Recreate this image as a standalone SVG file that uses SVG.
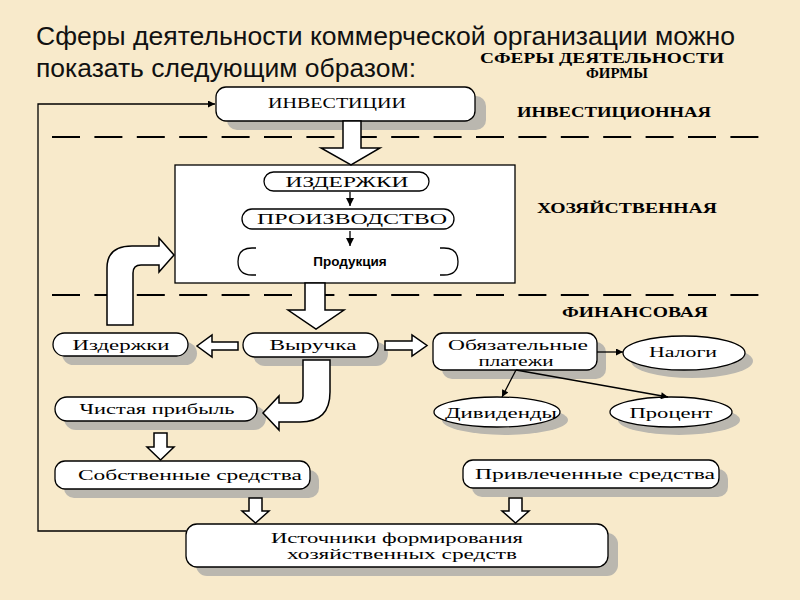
<svg xmlns="http://www.w3.org/2000/svg" width="800" height="600" viewBox="0 0 800 600">
<defs>
<style>
.t{font-family:"Liberation Serif","DejaVu Serif",serif;font-size:15px;fill:#000;text-anchor:middle}
.sec{font-family:"Liberation Serif","DejaVu Serif",serif;font-size:14px;font-weight:bold;fill:#000;text-anchor:middle}
.title{font-family:"Liberation Sans Narrow","Liberation Sans",Arial,sans-serif;font-size:26px;fill:#111}
.box{fill:#fff;stroke:#000;stroke-width:1.3}
.shd{fill:#bab7af}
.blk{fill:#fff;stroke:#000;stroke-width:1.5;stroke-linejoin:miter}
.ln{fill:none;stroke:#000;stroke-width:1.3}
.dash{fill:none;stroke:#000;stroke-width:2.2;stroke-dasharray:28 14.4}
</style>
<marker id="ah" viewBox="0 0 10 10" refX="10" refY="5" markerWidth="8" markerHeight="7" markerUnits="userSpaceOnUse" orient="auto">
<path d="M0,0 L10,5 L0,10 Z" fill="#000"/>
</marker>
<marker id="ahs" viewBox="0 0 10 10" refX="10" refY="5" markerWidth="10" markerHeight="8" markerUnits="userSpaceOnUse" orient="auto">
<path d="M0,0 L10,5 L0,10 Z" fill="#000"/>
</marker>
</defs>

<rect x="0" y="0" width="800" height="600" fill="#f8eacb"/>

<g id="title">
<text class="title" x="36" y="45" textLength="699" lengthAdjust="spacingAndGlyphs">Сферы деятельности коммерческой организации можно</text>
<text class="title" x="36" y="77" textLength="380" lengthAdjust="spacingAndGlyphs">показать следующим образом:</text>
</g>

<g id="section-labels">
<text class="sec" x="602" y="63" textLength="244" lengthAdjust="spacingAndGlyphs">СФЕРЫ ДЕЯТЕЛЬНОСТИ</text>
<text class="sec" x="617" y="78" textLength="62" lengthAdjust="spacingAndGlyphs">ФИРМЫ</text>
<text class="sec" x="614" y="117" textLength="194" lengthAdjust="spacingAndGlyphs">ИНВЕСТИЦИОННАЯ</text>
<text class="sec" x="627" y="213" textLength="180" lengthAdjust="spacingAndGlyphs">ХОЗЯЙСТВЕННАЯ</text>
<text class="sec" x="635" y="317" textLength="146" lengthAdjust="spacingAndGlyphs">ФИНАНСОВАЯ</text>
</g>

<g id="dividers">
<line class="dash" x1="52" y1="137" x2="760" y2="137"/>
<line class="dash" x1="52" y1="295" x2="760" y2="295"/>
</g>

<g id="investicii">
<rect class="shd" x="227" y="96" width="259" height="34" rx="10"/>
<rect class="box" x="216" y="87" width="259" height="34" rx="10"/>
<text class="t" x="337" y="108" textLength="138" lengthAdjust="spacingAndGlyphs">ИНВЕСТИЦИИ</text>
</g>

<g id="hoz-block">
<rect class="box" x="175" y="165" width="340" height="118"/>
</g>

<g id="izderzhki-top">
<rect class="box" x="264" y="172" width="165" height="19" rx="9.5"/>
<text class="t" x="347" y="187" textLength="123" lengthAdjust="spacingAndGlyphs">ИЗДЕРЖКИ</text>
</g>

<g id="proizvodstvo">
<rect class="box" x="242" y="209" width="212" height="20" rx="10"/>
<text class="t" x="352" y="224" textLength="190" lengthAdjust="spacingAndGlyphs">ПРОИЗВОДСТВО</text>
</g>

<g id="produkciya">
<path class="ln" d="M256,248 L252,248 Q238,248 238,261.5 Q238,275 252,275 L256,275"/>
<path class="ln" d="M440,248 L444,248 Q458,248 458,261.5 Q458,275 444,275 L440,275"/>
<text x="350" y="266" style="font-family:'Liberation Sans',Arial,sans-serif;font-size:13.5px;font-weight:bold;text-anchor:middle">Продукция</text>
</g>

<g id="izderzhki">
<rect class="shd" x="62" y="342" width="135" height="23" rx="11.5"/>
<rect class="box" x="53" y="333" width="135" height="23" rx="11.5"/>
<text class="t" x="121" y="350" textLength="97" lengthAdjust="spacingAndGlyphs">Издержки</text>
</g>

<g id="vyruchka">
<rect class="shd" x="253" y="342" width="135" height="24" rx="12"/>
<rect class="box" x="243" y="333" width="135" height="24" rx="12"/>
<text class="t" x="313" y="350" textLength="87" lengthAdjust="spacingAndGlyphs">Выручка</text>
</g>

<g id="obyazatelnye">
<rect class="shd" x="442" y="342" width="164" height="37" rx="10"/>
<rect class="box" x="433" y="333" width="164" height="37" rx="10"/>
<text class="t" x="518" y="350" textLength="140" lengthAdjust="spacingAndGlyphs">Обязательные</text>
<text class="t" x="516" y="366" textLength="75" lengthAdjust="spacingAndGlyphs">платежи</text>
</g>

<g id="nalogi">
<ellipse class="shd" cx="692" cy="361" rx="61" ry="17"/>
<ellipse class="box" cx="684" cy="353" rx="61" ry="17"/>
<text class="t" x="683" y="357" textLength="68" lengthAdjust="spacingAndGlyphs">Налоги</text>
</g>

<g id="dividendy">
<ellipse class="shd" cx="505" cy="420" rx="63" ry="15"/>
<ellipse class="box" cx="497" cy="412" rx="63" ry="15"/>
<text class="t" x="501" y="418" textLength="112" lengthAdjust="spacingAndGlyphs">Дивиденды</text>
</g>

<g id="procent">
<ellipse class="shd" cx="679" cy="420" rx="61" ry="15"/>
<ellipse class="box" cx="671" cy="412" rx="61" ry="15"/>
<text class="t" x="671" y="418" textLength="83" lengthAdjust="spacingAndGlyphs">Процент</text>
</g>

<g id="chistaya-pribyl">
<rect class="shd" x="64" y="406" width="202" height="24" rx="12"/>
<rect class="box" x="55" y="397" width="202" height="24" rx="12"/>
<text class="t" x="157" y="414" textLength="155" lengthAdjust="spacingAndGlyphs">Чистая прибыль</text>
</g>

<g id="sobstvennye">
<rect class="shd" x="64" y="470" width="255" height="28" rx="10"/>
<rect class="box" x="55" y="461" width="255" height="28" rx="10"/>
<text class="t" x="190" y="480" textLength="224" lengthAdjust="spacingAndGlyphs">Собственные средства</text>
</g>

<g id="privlechennye">
<rect class="shd" x="472" y="469" width="256" height="28" rx="10"/>
<rect class="box" x="463" y="460" width="256" height="28" rx="10"/>
<text class="t" x="595" y="479" textLength="240" lengthAdjust="spacingAndGlyphs">Привлеченные средства</text>
</g>

<g id="istochniki">
<rect class="shd" x="196" y="533" width="422" height="43" rx="11"/>
<rect class="box" x="186" y="524" width="422" height="43" rx="11"/>
<text class="t" x="397" y="543" textLength="252" lengthAdjust="spacingAndGlyphs">Источники формирования</text>
<text class="t" x="402" y="559" textLength="230" lengthAdjust="spacingAndGlyphs">хозяйственных средств</text>
</g>

<g id="connectors">
<polyline class="ln" points="186,531 38,531 38,104 215,104" marker-end="url(#ah)"/>
<path class="blk" d="M343,121 L361,121 L361,148 L380,148 L351,165 L321,148 L343,148 Z"/>
<line class="ln" x1="350" y1="192" x2="350" y2="206" stroke-width="2" marker-end="url(#ahs)"/>
<line class="ln" x1="350" y1="231" x2="350" y2="246" stroke-width="2" marker-end="url(#ahs)"/>
<path class="blk" d="M107,325 L107,268 Q107,246 132,246 L159,246 L159,238 L174,255 L159,272 L159,265 L141,265 Q133,265 133,273 L133,325 Z"/>
<path class="blk" d="M305,283 L325,283 L325,310 L344,310 L316,329 L288,310 L305,310 Z"/>
<path class="blk" d="M238,342 L212,342 L212,335 L197,346 L212,357 L212,350 L238,350 Z"/>
<path class="blk" d="M385,341 L412,341 L412,335 L427,345.5 L412,356 L412,350 L385,350 Z"/>
<path class="blk" d="M303,360 L330,360 L330,392 Q330,422 300,422 L279,422 L279,430 L263,413 L279,396 L279,403 L296,403 Q303,403 303,396 Z"/>
<line class="ln" x1="597" y1="352" x2="623" y2="352" marker-end="url(#ah)"/>
<line class="ln" x1="516" y1="370" x2="502" y2="397" marker-end="url(#ah)"/>
<line class="ln" x1="516" y1="370" x2="668" y2="397" marker-end="url(#ah)"/>
<path class="blk" d="M154,433 L167,433 L167,447 L174,447 L160.5,460 L147,447 L154,447 Z"/>
<path class="blk" d="M249,498 L262,498 L262,511 L269,511 L255.5,523 L242,511 L249,511 Z"/>
<path class="blk" d="M509,498 L522,498 L522,511 L529,511 L515.5,523 L502,511 L509,511 Z"/>
</g>
</svg>
